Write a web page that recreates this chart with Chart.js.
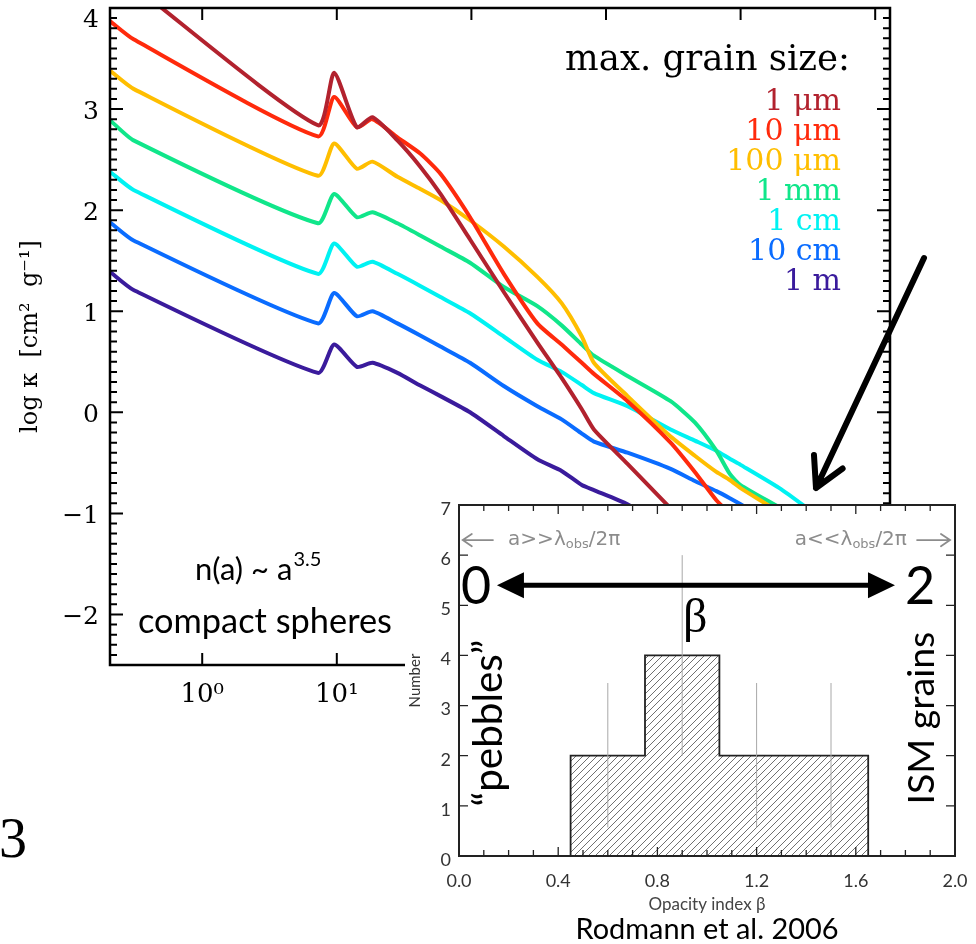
<!DOCTYPE html>
<html>
<head>
<meta charset="utf-8">
<script src="https://cdn.jsdelivr.net/npm/chart.js@4.4.1/dist/chart.umd.min.js"></script>
<style>
  html, body { margin: 0; padding: 0; background: #fff; }
  #wrap { position: relative; width: 976px; height: 944px; overflow: hidden; }
  #mainChart { position: absolute; left: 0; top: 0; width: 976px; height: 944px; }
  #insetChart { position: absolute; left: 405px; top: 493px; width: 571px; height: 451px; }
</style>
</head>
<body>
<div id="wrap">
  <canvas id="mainChart" width="976" height="944"></canvas>
  <canvas id="insetChart" width="571" height="451"></canvas>
</div>
<script>
// main panel: log kappa vs wavelength (micron), one curve per max grain size
const wavelengths = [0.2065, 0.309, 7.24, 9.55, 14.1, 18.4, 28.2, 41.7, 58.9, 97.7, 174, 309, 468, 661, 813, 1445, 3020, 4571, 6607, 8318, 10000, 19953, 39811, 128825];
const kappa1um   = [4.39, 4.22, 2.84, 3.36, 2.82, 2.92, 2.69, 2.43, 2.16, 1.71, 1.19, 0.69, 0.34, 0.03, -0.17, -0.51, -0.95, -1.20, -1.42, -1.56, -1.67, -2.10, -2.50, -3.20];
const kappa10um  = [3.87, 3.69, 2.73, 3.12, 2.82, 2.90, 2.72, 2.56, 2.36, 1.93, 1.37, 0.88, 0.67, 0.49, 0.38, 0.11, -0.30, -0.59, -0.87, -1.00, -1.10, -1.50, -1.90, -2.50];
const kappa100um = [3.38, 3.20, 2.34, 2.66, 2.41, 2.48, 2.33, 2.21, 2.10, 1.90, 1.64, 1.34, 1.08, 0.75, 0.49, 0.16, -0.24, -0.43, -0.59, -0.67, -0.75, -1.00, -1.30, -1.80];
const kappa1mm   = [2.89, 2.69, 1.87, 2.16, 1.93, 1.98, 1.87, 1.75, 1.64, 1.48, 1.24, 1.05, 0.86, 0.67, 0.56, 0.36, 0.11, -0.10, -0.38, -0.61, -0.72, -0.95, -1.20, -1.60];
const kappa1cm   = [2.38, 2.20, 1.37, 1.67, 1.44, 1.49, 1.37, 1.25, 1.14, 0.98, 0.75, 0.52, 0.40, 0.27, 0.19, 0.06, -0.17, -0.28, -0.38, -0.46, -0.52, -0.76, -1.05, -1.50];
const kappa10cm  = [1.88, 1.70, 0.88, 1.18, 0.95, 1.00, 0.88, 0.76, 0.65, 0.49, 0.26, 0.06, -0.07, -0.21, -0.29, -0.40, -0.56, -0.68, -0.78, -0.85, -0.91, -1.15, -1.40, -1.80];
const kappa1m    = [1.39, 1.21, 0.39, 0.67, 0.45, 0.49, 0.39, 0.265, 0.16, 0.00, -0.235, -0.465, -0.58, -0.72, -0.77, -0.91, -1.15, -1.28, -1.40, -1.47, -1.53, -1.75, -1.97, -2.35];

const grainLabels = ['1 μm', '10 μm', '100 μm', '1 mm', '1 cm', '10 cm', '1 m'];
const grainColors = ['#b2222e', '#ff2a0c', '#ffbe00', '#10e68a', '#00f2f2', '#0a6cff', '#3a1b9c'];
const kappaSeries = [kappa1um, kappa10um, kappa100um, kappa1mm, kappa1cm, kappa10cm, kappa1m];

const xTickValues = [1, 10, 100, 1000, 10000, 100000];
const xTickLabels = ['10⁰', '10¹', '10²', '10³', '10⁴', '10⁵'];
const yTickValues = [-2, -1, 0, 1, 2, 3, 4];

// inset: Rodmann et al. 2006 histogram of beta
const binEdges = [0.45, 0.75, 1.05, 1.65];
const binCounts = [2, 4, 2];
const guideX = [0.6, 0.9, 1.2, 1.5];
const guideLow = [0.57, 2, 0.57, 0.57];
const guideHigh = [3.45, 6, 3.45, 3.45];
const betaTicks = [0, 0.4, 0.8, 1.2, 1.6, 2.0];
const countTicks = [0, 1, 2, 3, 4, 5, 6, 7];

function fitSize(ctx, text, family, width, weight) {
  ctx.font = (weight || '') + ' 100px ' + family;
  return 100 * width / ctx.measureText(text).width;
}

function arrowLine(ctx, x1, y1, x2, y2, head, spread) {
  // line from (x1,y1) to tip (x2,y2) with open barbs
  ctx.beginPath();
  ctx.moveTo(x1, y1);
  ctx.lineTo(x2, y2);
  const ang = Math.atan2(y1 - y2, x1 - x2);
  ctx.moveTo(x2 + head * Math.cos(ang + spread), y2 + head * Math.sin(ang + spread));
  ctx.lineTo(x2, y2);
  ctx.lineTo(x2 + head * Math.cos(ang - spread), y2 + head * Math.sin(ang - spread));
  ctx.stroke();
}

// no extra room for edge labels: the plot box is fixed by the padding
function noEdgePad(s) {
  s.paddingTop = 0; s.paddingBottom = 0; s.paddingLeft = 0; s.paddingRight = 0;
}

const yLabel = v => (v < 0 ? '\u2212' + Math.abs(v) : String(v));

// рамка, засечки и подписи основного графика
const mainDecor = {
  id: 'mainDecor',
  afterDraw(chart) {
    const { ctx, chartArea: a, scales: { x, y } } = chart;
    ctx.save();
    ctx.strokeStyle = '#000';
    ctx.lineWidth = 2.5;
    ctx.strokeRect(a.left, a.top, a.right - a.left, a.bottom - a.top);
    ctx.lineWidth = 2;
    ctx.beginPath();
    for (let v = -25; v <= 40; v++) {
      const py = y.getPixelForValue(v / 10);
      const len = v % 10 === 0 ? 13 : 7;
      ctx.moveTo(a.left, py); ctx.lineTo(a.left + len, py);
      ctx.moveTo(a.right, py); ctx.lineTo(a.right - len, py);
    }
    xTickValues.forEach(v => {
      const px = x.getPixelForValue(v);
      if (px > a.right - 2) return;
      ctx.moveTo(px, a.bottom); ctx.lineTo(px, a.bottom - 12);
      ctx.moveTo(px, a.top); ctx.lineTo(px, a.top + 12);
    });
    ctx.stroke();

    // top tick label sits lower so it is not cut by the edge
    const topV = yTickValues[yTickValues.length - 1];
    ctx.fillStyle = '#000';
    ctx.font = '25px DejaVu Serif';
    ctx.textAlign = 'right';
    ctx.textBaseline = 'middle';
    ctx.fillText(yLabel(topV), a.left - 11, y.getPixelForValue(topV) + 12);

    // legend
    ctx.textBaseline = 'alphabetic';
    const hs = fitSize(ctx, 'max. grain size:', 'DejaVu Serif', 285);
    ctx.font = hs + 'px DejaVu Serif';
    ctx.fillText('max. grain size:', 850, 70);
    ctx.font = '30px DejaVu Serif';
    grainLabels.forEach((lab, i) => {
      ctx.fillStyle = grainColors[i];
      ctx.fillText(lab, 841, 110 + 30 * i);
    });

    // size distribution note
    ctx.fillStyle = '#000';
    ctx.textAlign = 'left';
    ctx.font = '31px Lato';
    ctx.fillText('n(a) ~ a', 195, 580);
    const w = ctx.measureText('n(a) ~ a').width;
    ctx.font = '20px Lato';
    ctx.fillText('3.5', 195 + w + 1, 566);
    ctx.font = fitSize(ctx, 'compact spheres', 'Lato', 254) + 'px Lato';
    ctx.fillText('compact spheres', 138, 633);

    // stray glyph at left edge
    ctx.font = '56px Liberation Serif';
    ctx.fillText('3', -1, 857);

    // arrow pointing to the inset
    ctx.strokeStyle = '#000';
    ctx.lineWidth = 6;
    ctx.lineCap = 'round';
    ctx.lineJoin = 'round';
    arrowLine(ctx, 924, 258, 816, 488, 33, 0.5);
    ctx.restore();
  }
};

const mainChart = new Chart(document.getElementById('mainChart'), {
  type: 'line',
  data: {
    datasets: kappaSeries.map((vals, i) => ({
      label: grainLabels[i],
      data: vals.map((k, j) => ({ x: wavelengths[j], y: k })),
      borderColor: grainColors[i],
      borderWidth: 4,
      borderJoinStyle: 'round',
      pointRadius: 0,
      fill: false,
      tension: 0.2
    }))
  },
  options: {
    responsive: false,
    animation: false,
    layout: { autoPadding: false, padding: { top: 8, right: 86, left: 0, bottom: 0 } },
    plugins: { legend: { display: false }, tooltip: { enabled: false } },
    scales: {
      x: {
        type: 'logarithmic',
        min: 0.2065,
        max: 128825,
        afterBuildTicks: s => { s.ticks = xTickValues.map(v => ({ value: v })); },
        afterFit: s => { s.height = 279; noEdgePad(s); },
        grid: { display: false, drawTicks: false },
        border: { display: false },
        ticks: {
          autoSkip: false,
          maxRotation: 0,
          padding: 15,
          color: '#000',
          font: { family: 'DejaVu Serif', size: 26 },
          callback: v => xTickLabels[xTickValues.indexOf(v)] || ''
        }
      },
      y: {
        min: -2.5,
        max: 4,
        afterBuildTicks: s => { s.ticks = yTickValues.map(v => ({ value: v })); },
        afterFit: s => { s.width = 110; noEdgePad(s); },
        grid: { display: false, drawTicks: false },
        border: { display: false },
        ticks: {
          padding: 11,
          labelOffset: 3,
          color: '#000',
          font: { family: 'DejaVu Serif', size: 25 },
          callback: v => (v === yTickValues[yTickValues.length - 1] ? '' : yLabel(v))
        },
        title: {
          display: true,
          text: 'log κ  [cm²  g⁻¹]',
          color: '#000',
          font: { family: 'DejaVu Serif', size: 24 },
          padding: { top: 16, bottom: 0 }
        }
      }
    }
  },
  plugins: [mainDecor]
});

// inset
const insetCanvas = document.getElementById('insetChart');
const insetCtx = insetCanvas.getContext('2d');

function makeHatch(ctx) {
  const c = document.createElement('canvas');
  c.width = 7; c.height = 7;
  const g = c.getContext('2d');
  g.strokeStyle = '#707070';
  g.lineWidth = 1;
  g.beginPath();
  g.moveTo(0, 7); g.lineTo(7, 0);
  g.moveTo(-1, 1); g.lineTo(1, -1);
  g.moveTo(6, 8); g.lineTo(8, 6);
  g.stroke();
  return ctx.createPattern(c, 'repeat');
}

const histPoints = [{ x: binEdges[0], y: 0 }];
binCounts.forEach((c, i) => {
  histPoints.push({ x: binEdges[i], y: c }, { x: binEdges[i + 1], y: c });
});
histPoints.push({ x: binEdges[binEdges.length - 1], y: 0 });

function drawObsLabel(ctx, x, y, rel, align) {
  const parts = [['a' + rel + 'λ', 20, 0], ['obs', 13, 5], ['/2π', 20, 0]];
  let total = 0;
  parts.forEach(p => { ctx.font = p[1] + 'px DejaVu Sans'; total += ctx.measureText(p[0]).width; });
  let cx = align === 'right' ? x - total : x;
  ctx.textAlign = 'left';
  parts.forEach(p => {
    ctx.font = p[1] + 'px DejaVu Sans';
    ctx.fillText(p[0], cx, y + p[2]);
    cx += ctx.measureText(p[0]).width;
  });
}

const insetDecor = {
  id: 'insetDecor',
  beforeDraw(chart) {
    // white card from the frame top down, the strip above stays see-through
    const { ctx, chartArea: a, width, height } = chart;
    ctx.save();
    ctx.fillStyle = '#fff';
    ctx.fillRect(0, a.top - 1, width, height - a.top + 1);
    ctx.restore();
  },
  afterDraw(chart) {
    const { ctx, chartArea: a, scales: { x, y } } = chart;
    ctx.save();
    ctx.strokeStyle = '#222';
    ctx.lineWidth = 2;
    ctx.strokeRect(a.left, a.top, a.right - a.left, a.bottom - a.top);
    ctx.lineWidth = 1.3;
    ctx.beginPath();
    for (let v = 0; v <= 20; v++) {
      const px = x.getPixelForValue(v / 10);
      const len = v % 4 === 0 ? 9 : 6;
      ctx.moveTo(px, a.bottom); ctx.lineTo(px, a.bottom - len);
      ctx.moveTo(px, a.top); ctx.lineTo(px, a.top + len);
    }
    countTicks.forEach(v => {
      const py = y.getPixelForValue(v);
      ctx.moveTo(a.left, py); ctx.lineTo(a.left + 9, py);
      ctx.moveTo(a.right, py); ctx.lineTo(a.right - 9, py);
    });
    ctx.stroke();

    // grey regime labels
    const gy = y.getPixelForValue(6.3);
    ctx.strokeStyle = '#8c8c8c';
    ctx.fillStyle = '#8c8c8c';
    ctx.lineWidth = 1.8;
    ctx.lineCap = 'round';
    arrowLine(ctx, x.getPixelForValue(0.137), gy, x.getPixelForValue(0.015), gy, 11, 0.6);
    arrowLine(ctx, x.getPixelForValue(1.847), gy, x.getPixelForValue(1.98), gy, 11, 0.6);
    ctx.textBaseline = 'middle';
    drawObsLabel(ctx, x.getPixelForValue(0.198), gy, '>>', 'left');
    drawObsLabel(ctx, x.getPixelForValue(1.806), gy, '<<', 'right');

    // beta double arrow
    const ay = y.getPixelForValue(5.4);
    const xl = x.getPixelForValue(0.153), xr = x.getPixelForValue(1.758);
    ctx.fillStyle = '#000';
    ctx.strokeStyle = '#000';
    ctx.lineWidth = 5;
    ctx.beginPath();
    ctx.moveTo(xl + 20, ay); ctx.lineTo(xr - 20, ay);
    ctx.stroke();
    ctx.beginPath();
    ctx.moveTo(xl, ay); ctx.lineTo(xl + 27, ay - 13); ctx.lineTo(xl + 27, ay + 13); ctx.closePath();
    ctx.moveTo(xr, ay); ctx.lineTo(xr - 27, ay - 13); ctx.lineTo(xr - 27, ay + 13); ctx.closePath();
    ctx.fill();
    ctx.textAlign = 'center';
    ctx.textBaseline = 'middle';
    ctx.font = '52px Lato';
    ctx.fillText('0', x.getPixelForValue(0.069), ay + 2);
    ctx.fillText('2', x.getPixelForValue(1.859), ay + 2);
    ctx.font = '48px Liberation Serif';
    ctx.fillText('β', x.getPixelForValue(0.952), y.getPixelForValue(4.71));

    // rotated labels
    ctx.textBaseline = 'alphabetic';
    const rot = (txt, bx, cy, width) => {
      ctx.save();
      ctx.translate(bx, cy);
      ctx.rotate(-Math.PI / 2);
      ctx.font = fitSize(ctx, txt, 'Lato', width) + 'px Lato';
      ctx.textAlign = 'center';
      ctx.fillText(txt, 0, 0);
      ctx.restore();
    };
    rot('“pebbles”', x.getPixelForValue(0.175), y.getPixelForValue(2.65), 167);
    rot('ISM grains', x.getPixelForValue(1.915), y.getPixelForValue(2.75), 173);

    // reference
    ctx.textAlign = 'center';
    ctx.font = fitSize(ctx, 'Rodmann et al. 2006', 'Lato', 263) + 'px Lato';
    ctx.fillText('Rodmann et al. 2006', (a.left + a.right) / 2, 446);
    ctx.restore();
  }
};

const insetChart = new Chart(insetCanvas, {
  type: 'line',
  data: {
    datasets: guideX.map((gx, i) => ({
      data: [{ x: gx, y: guideLow[i] }, { x: gx, y: guideHigh[i] }],
      borderColor: '#a8a8a8',
      borderWidth: 1,
      pointRadius: 0,
      fill: false
    })).concat([{
      label: 'Number',
      data: histPoints,
      borderColor: '#222',
      borderWidth: 1.8,
      pointRadius: 0,
      tension: 0,
      fill: 'origin',
      backgroundColor: makeHatch(insetCtx)
    }])
  },
  options: {
    responsive: false,
    animation: false,
    layout: { autoPadding: false, padding: { top: 12, right: 21, left: 0, bottom: 0 } },
    plugins: { legend: { display: false }, tooltip: { enabled: false } },
    scales: {
      x: {
        type: 'linear',
        min: 0,
        max: 2,
        afterBuildTicks: s => { s.ticks = betaTicks.map(v => ({ value: v })); },
        afterFit: s => { s.height = 88; noEdgePad(s); },
        grid: { display: false, drawTicks: false },
        border: { display: false },
        ticks: {
          padding: 14,
          color: '#333',
          font: { family: 'Lato', size: 18 },
          callback: v => Number(v).toFixed(1)
        },
        title: {
          display: true,
          text: 'Opacity index β',
          color: '#444',
          font: { family: 'Lato', size: 17 },
          padding: { top: 0, bottom: 29 }
        }
      },
      y: {
        min: 0,
        max: 7,
        afterBuildTicks: s => { s.ticks = countTicks.map(v => ({ value: v })); },
        afterFit: s => { s.width = 54; noEdgePad(s); },
        grid: { display: false, drawTicks: false },
        border: { display: false },
        ticks: {
          padding: 8,
          labelOffset: 4,
          color: '#333',
          font: { family: 'Lato', size: 18 }
        },
        title: {
          display: true,
          text: 'Number',
          color: '#333',
          font: { family: 'Lato', size: 15 },
          padding: { top: 1, bottom: 0 }
        }
      }
    }
  },
  plugins: [insetDecor]
});
</script>
</body>
</html>
